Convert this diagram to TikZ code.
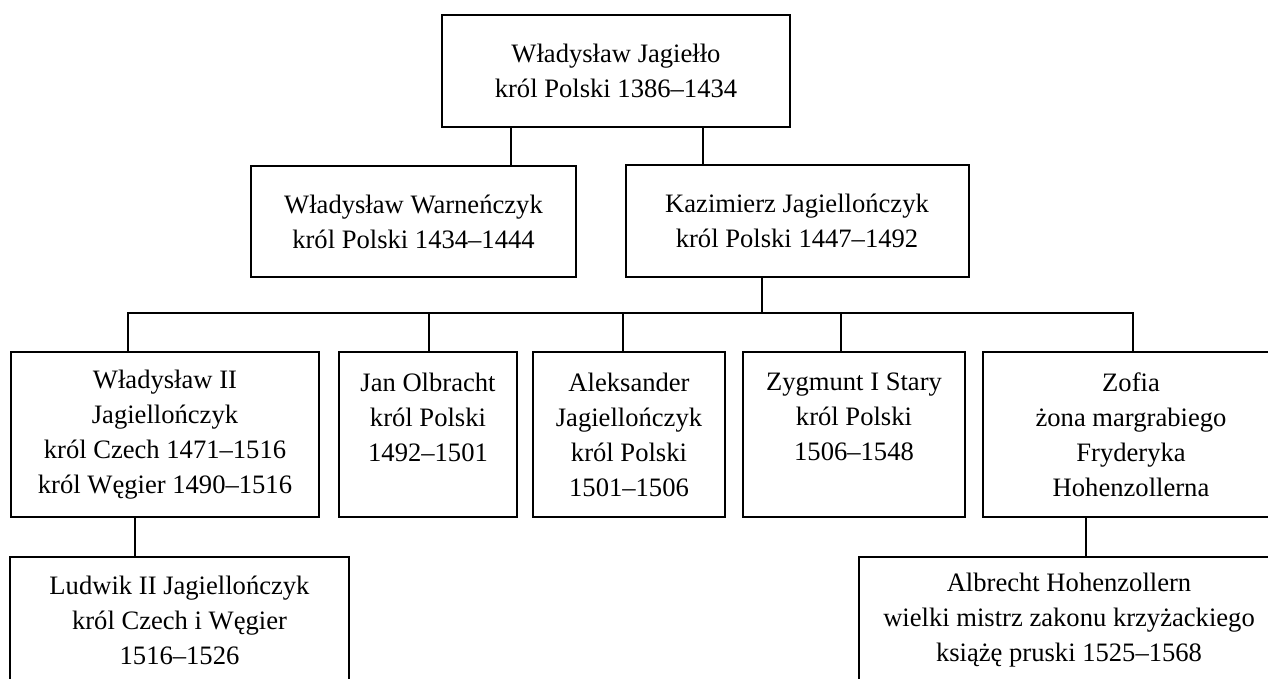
\documentclass[tikz,border=0pt]{standalone}
\usepackage{fontspec}
\setmainfont{Liberation Serif}
\begin{document}
\begin{tikzpicture}[x=0.5pt,y=-0.5pt,
  person/.style={draw, line width=1pt, align=center, inner sep=0pt,
    font=\fontsize{13.3}{17.5}\selectfont},
  conn/.style={line width=1pt}]
\useasboundingbox (0,0) rectangle (1268,679);
\clip (0,0) rectangle (1268,679);
% generation 1
\node[person, minimum width=174pt, minimum height=56pt] (top) at (616,71)
  {Władysław Jagiełło\\król Polski 1386–1434};
% generation 2
\node[person, minimum width=162.5pt, minimum height=55.5pt] (warn) at (413.5,221.5)
  {Władysław Warneńczyk\\król Polski 1434–1444};
\node[person, minimum width=171.5pt, minimum height=55.5pt] (kaz) at (797,221)
  {Kazimierz Jagiellończyk\\król Polski 1447–1492};
% generation 3
\node[person, minimum width=154pt, minimum height=82.5pt] (wl2) at (165,434.5)
  {Władysław II\\Jagiellończyk\\król Czech 1471–1516\\król Węgier 1490–1516};
\node[person, minimum width=89pt, minimum height=82.5pt] (jan) at (428,434.5)
  {Jan Olbracht\\król Polski\\1492–1501\\~};
\node[person, minimum width=96pt, minimum height=82.5pt] (ale) at (629,434.5)
  {Aleksander\\Jagiellończyk\\król Polski\\1501–1506};
\node[person, minimum width=111pt, minimum height=82.5pt] (zyg) at (854,434.5)
  {Zygmunt I Stary\\król Polski\\1506–1548\\~};
\node[person, minimum width=148pt, minimum height=82.5pt] (zof) at (1131,434.5)
  {Zofia\\żona margrabiego\\Fryderyka\\Hohenzollerna};
% generation 4
\node[person, minimum width=169.5pt, minimum height=63pt] (lud) at (179.5,620)
  {Ludwik II Jagiellończyk\\król Czech i Węgier\\1516–1526};
\node[person, minimum width=210pt, minimum height=63pt] (alb) at (1069,620)
  {Albrecht Hohenzollern\\wielki mistrz zakonu krzyżackiego\\książę pruski 1525–1568};
% connector columns
\coordinate (c1) at (511,0);
\coordinate (c2) at (703,0);
\coordinate (ck) at (762,0);
\coordinate (bar) at (0,313);
\coordinate (d1) at (128,0);
\coordinate (d2) at (429,0);
\coordinate (d3) at (623,0);
\coordinate (d4) at (841,0);
\coordinate (d5) at (1133,0);
\coordinate (e1) at (135,0);
\coordinate (e2) at (1086,0);
\draw[conn] (top.south -| c1) -- (warn.north -| c1);
\draw[conn] (top.south -| c2) -- (kaz.north -| c2);
\draw[conn] (kaz.south -| ck) -- (bar -| ck);
\draw[conn] (wl2.north -| d1) -- (bar -| d1) -- (bar -| d5) -- (zof.north -| d5);
\draw[conn] (bar -| d2) -- (jan.north -| d2);
\draw[conn] (bar -| d3) -- (ale.north -| d3);
\draw[conn] (bar -| d4) -- (zyg.north -| d4);
\draw[conn] (wl2.south -| e1) -- (lud.north -| e1);
\draw[conn] (zof.south -| e2) -- (alb.north -| e2);
\end{tikzpicture}
\end{document}
